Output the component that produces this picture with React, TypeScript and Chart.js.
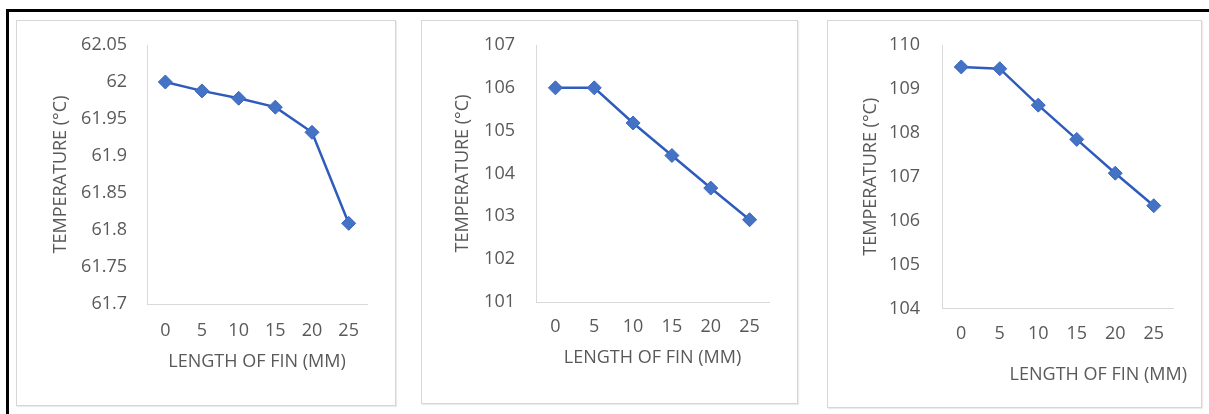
import React, { useEffect, useRef } from "react";
import { Chart, registerables } from "chart.js";

Chart.register(...registerables);

// ---- data ----
const finLengths = ["0", "5", "10", "15", "20", "25"];

const temps1 = [62.0, 61.988, 61.978, 61.966, 61.932, 61.809];
const temps2 = [106.0, 106.0, 105.18, 104.42, 103.66, 102.92];
const temps3 = [109.5, 109.46, 108.63, 107.85, 107.08, 106.34];

const yTicks1 = [61.7, 61.75, 61.8, 61.85, 61.9, 61.95, 62, 62.05];
const yTicks2 = [101, 102, 103, 104, 105, 106, 107];
const yTicks3 = [104, 105, 106, 107, 108, 109, 110];

const xTitle = "LENGTH OF FIN (MM)";
const yTitle = "TEMPERATURE (°C)";

// ---- styles ----
const FAMILY = "'Open Sans', 'Noto Sans', sans-serif";
const FONT = { family: FAMILY, size: 18 };
const YTICK_FONT = { family: FAMILY, size: 18, lineHeight: 0.2 };
const TEXT = "#595959";
const AXIS = "#d9d9d9";

type PanelSpec = {
  left: number; top: number; width: number; height: number;
  values: number[]; yTicks: number[];
  yWidth: number; yTickPad: number; yTitlePad: number;
  xHeight: number; xTickPad: number; xTitlePad: number;
  padRight: number; pluginTitle?: boolean; extraRight?: number;
};

function makeConfig(p: PanelSpec): any {
  const scales: any = {
    x: {
      type: "category",
      offset: true,
      grid: { display: false, drawTicks: false },
      border: { display: true, color: AXIS, width: 1 },
      ticks: { font: FONT, color: TEXT, padding: p.xTickPad, maxRotation: 0, autoSkip: false },
      title: {
        display: !p.pluginTitle,
        text: xTitle,
        font: FONT,
        color: TEXT,
        padding: { top: 0, bottom: p.xTitlePad },
      },
      afterFit: (s: any) => { s.height = p.xHeight; },
    },
    y: {
      type: "linear",
      min: p.yTicks[0],
      max: p.yTicks[p.yTicks.length - 1],
      grid: { display: false, drawTicks: false },
      border: { display: true, color: AXIS, width: 1 },
      ticks: { font: YTICK_FONT, color: TEXT, padding: p.yTickPad, callback: (v: any) => String(v) },
      afterBuildTicks: (s: any) => { s.ticks = p.yTicks.map((v) => ({ value: v })); },
      title: {
        display: true,
        text: yTitle,
        font: FONT,
        color: TEXT,
        padding: { top: p.yTitlePad, bottom: 0 },
      },
      afterFit: (s: any) => { s.width = p.yWidth; },
    },
  };
  if (p.extraRight) {
    scales.y2 = {
      type: "linear",
      position: "right",
      display: true,
      grid: { display: false, drawTicks: false },
      border: { display: false },
      ticks: { display: false },
      afterFit: (s: any) => { s.width = p.extraRight; },
    };
  }
  return {
    type: "line",
    data: {
      labels: finLengths,
      datasets: [
        {
          data: p.values,
          borderColor: "#2f5cbc",
          borderWidth: 2.5,
          tension: 0,
          pointStyle: "rectRot",
          pointRadius: 7,
          pointBackgroundColor: "#4472C4",
          pointBorderColor: "#3a67bf",
          pointBorderWidth: 1,
        },
      ],
    },
    options: {
      animation: false,
      responsive: false,
      devicePixelRatio: 1,
      layout: { padding: { top: 24, right: p.padRight, left: 0, bottom: 0 } },
      plugins: {
        legend: { display: false },
        tooltip: { enabled: false },
        title: p.pluginTitle
          ? {
              display: true,
              text: xTitle,
              position: "bottom",
              align: "end",
              font: { ...FONT, weight: "normal" },
              color: TEXT,
              padding: { top: 0, bottom: p.xTitlePad },
            }
          : { display: false },
      },
      scales,
    },
  };
}

function Panel({ p }: { p: PanelSpec }) {
  const ref = useRef<HTMLCanvasElement | null>(null);
  useEffect(() => {
    if (!ref.current) return;
    const chart = new Chart(ref.current, makeConfig(p));
    return () => chart.destroy();
  }, []);
  return (
    <div
      style={{
        position: "absolute",
        left: p.left,
        top: p.top,
        width: p.width,
        height: p.height,
        border: "1px solid #d6d6d6",
        boxShadow: "1px 1px 1px rgba(0,0,0,0.08)",
        background: "#fff",
      }}
    >
      <canvas
        ref={ref}
        width={p.width}
        height={p.height}
        style={{ display: "block", width: p.width, height: p.height }}
      />
    </div>
  );
}

const panels: PanelSpec[] = [
  {
    left: 16, top: 20, width: 378, height: 384,
    values: temps1, yTicks: yTicks1,
    yWidth: 130, yTickPad: 20, yTitlePad: 33,
    xHeight: 101, xTickPad: 16, xTitlePad: 32,
    padRight: 28,
  },
  {
    left: 421, top: 20, width: 375, height: 382,
    values: temps2, yTicks: yTicks2,
    yWidth: 114, yTickPad: 21, yTitlePad: 30,
    xHeight: 101, xTickPad: 14, xTitlePad: 34,
    padRight: 28,
  },
  {
    left: 827, top: 20, width: 373, height: 386,
    values: temps3, yTicks: yTicks3,
    yWidth: 114, yTickPad: 22, yTitlePad: 32,
    xHeight: 56, xTickPad: 15, xTitlePad: 21,
    padRight: 14, pluginTitle: true, extraRight: 14,
  },
];

export default function App() {
  return (
    <div
      style={{
        position: "absolute",
        left: 0,
        top: 0,
        width: 1209,
        height: 414,
        overflow: "hidden",
        background: "#fff",
      }}
    >
      <div
        style={{
          position: "absolute",
          left: 6,
          top: 9,
          width: 1300,
          height: 500,
          borderLeft: "3px solid #000",
          borderTop: "3px solid #000",
        }}
      />
      {panels.map((p, i) => (
        <Panel key={i} p={p} />
      ))}
    </div>
  );
}
